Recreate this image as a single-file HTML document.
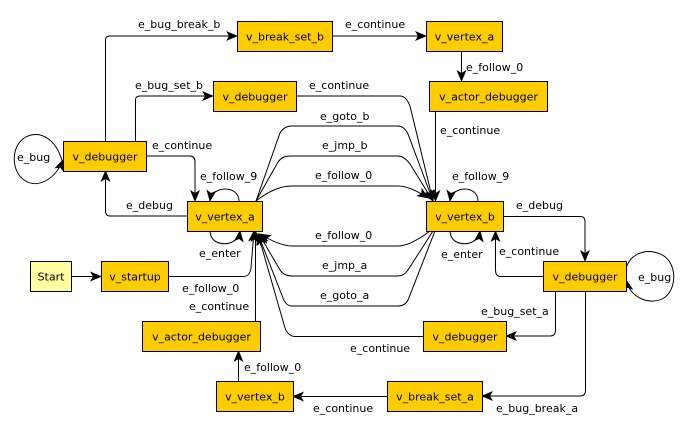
<!DOCTYPE html>
<html><head><meta charset="utf-8"><style>
html,body{margin:0;padding:0;background:#fff;}
svg{display:block;}
text{font-family:"DejaVu Sans","Liberation Sans",sans-serif;font-size:11px;fill:#000;}
.n{fill:#ffcc00;stroke:#000;stroke-width:1;}
.e{fill:none;stroke:#000;stroke-width:1;marker-end:url(#a);}
.l{fill:none;stroke:#000;stroke-width:1;}
</style></head><body>
<svg width="690" height="432" viewBox="0 0 690 432" xmlns="http://www.w3.org/2000/svg">
<defs><marker id="a" viewBox="0 0 12 10" refX="11" refY="5" markerWidth="12" markerHeight="10" markerUnits="userSpaceOnUse" orient="auto"><path d="M0,0 L12,5 L0,10 L3,5 Z" fill="#000"/></marker></defs>

<!-- edges -->
<path class="e" d="M105.5,141 V40 Q105.5,36 110,36 H237"/>
<path class="e" d="M332,36 H426"/>
<path class="e" d="M461.5,51 V81"/>
<path class="e" d="M435.5,111 V201"/>
<path class="e" d="M135.5,141 V100 Q135.5,96 140,96 H213"/>
<path class="e" d="M296,96 H400 Q406,96 410,106 L433,201"/>
<path class="e" d="M146,156 H190 Q195,156 195,162 V201"/>
<path class="e" d="M187,216 H110 Q105.5,216 105.5,211 V171"/>
<path class="e" d="M239,201 C239,185 212,185 210,201"/>
<path class="e" d="M210,231 C210,248 238,248 240,231"/>
<path class="e" d="M256,201 L280,133 Q284,126 292,126 H398 Q404,126 408,134 L433,201"/>
<path class="e" d="M256,201 L278,162 Q282,156 290,156 H398 Q404,156 410,164 L433,201"/>
<path class="e" d="M256,201 Q275,186 292,186 H398 Q410,186 428,198"/>
<path class="e" d="M430,231 Q410,246 398,246 H292 Q280,246 260,234"/>
<path class="e" d="M433,231 L408,270 Q404,276 398,276 H292 Q284,276 280,270 L259,234"/>
<path class="e" d="M435,231 L408,300 Q405,306 398,306 H292 Q286,306 283,298 L258,234"/>
<path class="e" d="M168,276.5 H244 Q250,276 251,268 L254,231"/>
<path class="e" d="M255.5,321 V231"/>
<path class="e" d="M238.5,381 V351"/>
<path class="e" d="M387,396.5 H293"/>
<path class="e" d="M503,216.5 H580 Q585,216 585,222 V261"/>
<path class="e" d="M543,276.5 H500 Q495.5,276 495.5,270 V231"/>
<path class="e" d="M555.5,291 V330 Q555.5,336 550,336 H506"/>
<path class="e" d="M585.5,291 V390 Q585.5,396 580,396 H482"/>
<path class="e" d="M423,336.5 H295 Q288,336 285,328 L258,234"/>
<path class="e" d="M478,201 C478,185 452,185 450,201"/>
<path class="e" d="M450,231 C450,248 478,248 480,231"/>
<path class="e" d="M71,276.5 H101"/>
<path class="e" d="M63,165 C58,140 40,128 24,138 C10,148 12,172 24,180 C38,190 56,178 63,160" />
<path class="e" d="M626,268 C632,250 652,248 664,256 C678,266 676,290 664,298 C650,306 630,298 626,280"/>

<!-- nodes -->
<rect class="n" x="237.5" y="21.5" width="95" height="30"/><text x="285" y="40.5" text-anchor="middle">v_break_set_b</text>
<rect class="n" x="426.5" y="21.5" width="76" height="30"/><text x="464.5" y="40.5" text-anchor="middle">v_vertex_a</text>
<rect class="n" x="213.5" y="81.5" width="83" height="30"/><text x="255" y="100.5" text-anchor="middle">v_debugger</text>
<rect class="n" x="429.5" y="81.5" width="118" height="30"/><text x="488.5" y="100.5" text-anchor="middle">v_actor_debugger</text>
<rect class="n" x="63.5" y="141.5" width="83" height="30"/><text x="105" y="160.5" text-anchor="middle">v_debugger</text>
<rect class="n" x="187.5" y="201.5" width="75" height="30"/><text x="225" y="220.5" text-anchor="middle">v_vertex_a</text>
<rect class="n" x="426.5" y="201.5" width="77" height="30"/><text x="465" y="220.5" text-anchor="middle">v_vertex_b</text>
<rect x="30.5" y="261.5" width="41" height="30" fill="#ffffa0" stroke="#000"/><text x="51" y="280.5" text-anchor="middle">Start</text>
<rect class="n" x="101.5" y="261.5" width="67" height="30"/><text x="135" y="280.5" text-anchor="middle">v_startup</text>
<rect class="n" x="543.5" y="261.5" width="83" height="30"/><text x="585" y="280.5" text-anchor="middle">v_debugger</text>
<rect class="n" x="142.5" y="321.5" width="118" height="30"/><text x="201.5" y="340.5" text-anchor="middle">v_actor_debugger</text>
<rect class="n" x="423.5" y="321.5" width="83" height="30"/><text x="465" y="340.5" text-anchor="middle">v_debugger</text>
<rect class="n" x="216.5" y="381.5" width="77" height="30"/><text x="255" y="400.5" text-anchor="middle">v_vertex_b</text>
<rect class="n" x="387.5" y="381.5" width="95" height="30"/><text x="435" y="400.5" text-anchor="middle">v_break_set_a</text>

<!-- labels -->
<text x="138" y="28">e_bug_break_b</text>
<text x="345" y="28">e_continue</text>
<text x="466" y="71">e_follow_0</text>
<text x="135" y="89">e_bug_set_b</text>
<text x="309" y="89">e_continue</text>
<text x="320" y="120">e_goto_b</text>
<text x="440" y="134">e_continue</text>
<text x="322" y="149">e_jmp_b</text>
<text x="17" y="161">e_bug</text>
<text x="152" y="149">e_continue</text>
<text x="315" y="179">e_follow_0</text>
<text x="200" y="180">e_follow_9</text>
<text x="452" y="180">e_follow_9</text>
<text x="126" y="209">e_debug</text>
<text x="516" y="209">e_debug</text>
<text x="315" y="239">e_follow_0</text>
<text x="499" y="255">e_continue</text>
<text x="199" y="257">e_enter</text>
<text x="441" y="258">e_enter</text>
<text x="322" y="269">e_jmp_a</text>
<text x="638" y="281">e_bug</text>
<text x="182" y="292">e_follow_0</text>
<text x="320" y="299">e_goto_a</text>
<text x="189" y="310">e_continue</text>
<text x="481" y="315">e_bug_set_a</text>
<text x="350" y="352">e_continue</text>
<text x="244" y="371">e_follow_0</text>
<text x="313" y="412">e_continue</text>
<text x="496" y="412">e_bug_break_a</text>
</svg>
</body></html>
